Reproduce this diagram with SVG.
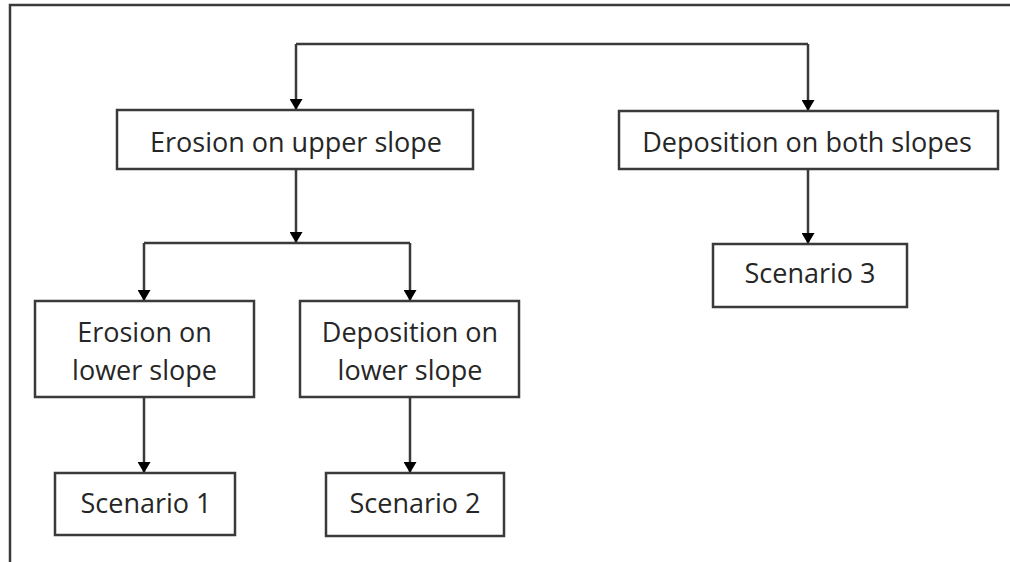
<svg xmlns="http://www.w3.org/2000/svg" width="1010" height="562" viewBox="0 0 1010 562">
<style>
.box{fill:#fff;stroke:#3a3a3a;stroke-width:2.5}
.t{font-family:"Open Sans","Noto Sans",sans-serif;font-size:27px;fill:#262626;text-anchor:middle}
.c{fill:none;stroke:#3a3a3a;stroke-width:2.5}
</style>
<defs>
<marker id="ah" viewBox="0 0 11 13" refX="11" refY="6.5" markerWidth="11" markerHeight="13" markerUnits="userSpaceOnUse" orient="auto">
<path d="M0,0 L11,6.5 L0,13 Z" fill="#000"/>
</marker>
</defs>
<rect width="1010" height="562" fill="#fff"/>
<path d="M10,562 V5 H1010" fill="none" stroke="#3a3a3a" stroke-width="2.5"/>
<g id="connectors">
<path class="c" d="M296,44 H808"/>
<path class="c" d="M296,44 V110" marker-end="url(#ah)"/>
<path class="c" d="M808,44 V111" marker-end="url(#ah)"/>
<path class="c" d="M296,169 V243" marker-end="url(#ah)"/>
<path class="c" d="M144,243 H410"/>
<path class="c" d="M144,243 V301" marker-end="url(#ah)"/>
<path class="c" d="M410,243 V301" marker-end="url(#ah)"/>
<path class="c" d="M144,397 V473" marker-end="url(#ah)"/>
<path class="c" d="M410,397 V473" marker-end="url(#ah)"/>
<path class="c" d="M808,169 V244" marker-end="url(#ah)"/>
</g>
<g id="n1"><rect class="box" x="117" y="110" width="356" height="59"/><text class="t" x="296" y="152">Erosion on upper slope</text></g>
<g id="n2"><rect class="box" x="619" y="111" width="379" height="58"/><text class="t" x="807" y="152">Deposition on both slopes</text></g>
<g id="n3"><rect class="box" x="35" y="301" width="219" height="96"/><text class="t" x="144.5" y="342">Erosion on</text><text class="t" x="144.5" y="380">lower slope</text></g>
<g id="n4"><rect class="box" x="300" y="301" width="219" height="96"/><text class="t" x="410" y="342">Deposition on</text><text class="t" x="410" y="380">lower slope</text></g>
<g id="n5"><rect class="box" x="55" y="473" width="180" height="62"/><text class="t" x="146" y="513">Scenario 1</text></g>
<g id="n6"><rect class="box" x="326" y="473" width="178" height="63"/><text class="t" x="415" y="513">Scenario 2</text></g>
<g id="n7"><rect class="box" x="713" y="244" width="194" height="63"/><text class="t" x="810" y="283">Scenario 3</text></g>
</svg>
